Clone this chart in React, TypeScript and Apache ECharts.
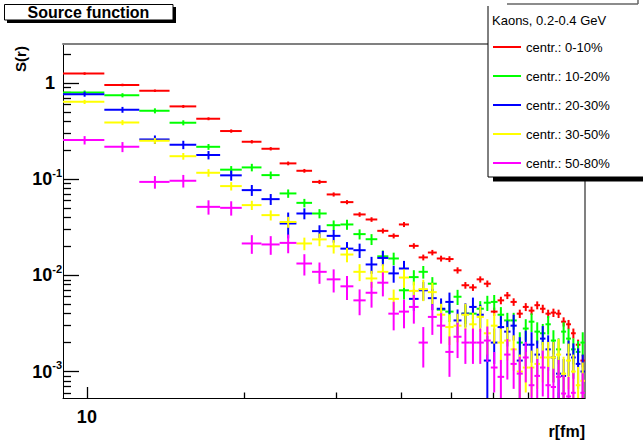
import React, { useEffect, useRef } from "react";
import * as echarts from "echarts";

const F = "Liberation Sans";
const XMIN = 9;
const XMAX = 90;
const YMIN = 5.3e-4;
const YMAX = 2.56;

const R_CENTERS = [9.9, 11.7, 13.5, 15.3, 17.1, 18.9, 20.7, 22.5, 24.3, 26.1, 27.9, 29.7, 31.5, 33.3, 35.1, 36.9, 38.7, 40.5, 42.3, 44.1, 45.9, 47.7, 49.5, 51.3, 53.1, 54.9, 56.7, 58.5, 60.3, 62.1, 63.9, 65.7, 67.5, 69.3, 71.1, 72.9, 74.7, 76.5, 78.3, 80.1, 81.9, 83.7, 85.5, 87.3, 89.1];
const BIN_HALF = 0.9;

const NAMES = ["centr.: 0-10%", "centr.: 10-20%", "centr.: 20-30%", "centr.: 30-50%", "centr.: 50-80%"];
const COLORS = ["#ff0000", "#00ff00", "#0000ff", "#ffff00", "#ff00ff"];

const RED = [1.26, 0.96, 0.835, 0.574, 0.427, 0.318, 0.246, 0.208, 0.1465, 0.1227, 0.094, 0.0696, 0.0579, 0.0431, 0.0382, 0.0291, 0.0258, 0.0339, 0.0203, 0.0154, 0.0173, 0.015, 0.0148, 0.0113, 0.0079, 0.0075, 0.0091, 0.0082, 0.0042, 0.0055, 0.0062, 0.0053, 0.004, 0.0047, 0.0043, 0.0049, 0.0045, 0.004, 0.0041, 0.004, 0.0033, 0.0031, 0.0025, 0.0019, 0.0013];
const GREEN = [0.8, 0.75, 0.517, 0.388, 0.218, 0.126, 0.133, 0.1106, 0.0713, 0.0569, 0.0441, 0.0333, 0.0339, 0.0269, 0.0238, 0.0158, 0.015, 0.007, 0.0096, 0.0109, 0.0082, 0.0044, 0.0042, 0.006, 0.004, 0.004, 0.0045, 0.0052, 0.0053, 0.0039, 0.0034, 0.0034, 0.002, 0.0028, 0.0033, 0.0026, 0.0025, 0.0031, 0.0021, 0.0017, 0.0026, 0.0022, 0.0017, 0.0016, 0.002];
const BLUE = [0.77, 0.53, 0.26, 0.229, 0.179, 0.11, 0.0772, 0.0622, 0.0347, 0.0441, 0.0289, 0.0258, 0.019, 0.0183, 0.013, 0.0152, 0.0105, 0.0118, 0.0057, 0.007, 0.0058, 0.0045, 0.0053, 0.0034, 0.004, 0.0047, 0.0039, 0.0013, 0.002, 0.0029, 0.0026, 0.003, 0.0013, 0.0019, 0.0019, 0.0015, 0.0022, 0.0017, 0.0014, 0.00095, 0.0009, 0.0015, 0.0014, 0.0012, 0.001];
const YELLOW = [0.64, 0.39, 0.252, 0.174, 0.117, 0.085, 0.0539, 0.0424, 0.036, 0.0215, 0.0237, 0.0201, 0.0165, 0.0109, 0.0093, 0.0109, 0.0057, 0.0095, 0.0069, 0.0072, 0.0067, 0.0039, 0.0029, 0.003, 0.0039, 0.0031, 0.0037, 0.0025, 0.003, 0.002, 0.0021, 0.0017, 0.001, 0.0011, 0.0011, 0.0012, 0.0014, 0.0014, 0.0014, 0.0015, 0.00095, 0.0013, 0.001, 0.00072, 0.0008];
const MAGENTA = [0.256, 0.218, 0.094, 0.0966, 0.0517, 0.0505, 0.0215, 0.021, 0.0218, 0.0133, 0.0109, 0.0091, 0.0077, 0.0055, 0.0066, 0.0084, 0.004, 0.0042, 0.0047, 0.002, 0.0037, 0.003, 0.0016, 0.0023, 0.002, 0.002, 0.002, 0.0021, 0.0011, 0.00088, 0.0015, 0.0012, 0.00095, 0.0014, 0.00072, 0.0009, 0.0011, 0.00072, 0.00069, 0.00088, 0.00059, 0.00055, 0.0006, 0.0005, 0.0006];

// relative errors
const RED_ERR = [0.03, 0.03, 0.03, 0.035, 0.035, 0.04, 0.04, 0.04, 0.045, 0.045, 0.05, 0.05, 0.05, 0.055, 0.055, 0.06, 0.06, 0.06, 0.065, 0.07, 0.065, 0.07, 0.07, 0.075, 0.08, 0.08, 0.075, 0.08, 0.1, 0.09, 0.085, 0.09, 0.1, 0.095, 0.1, 0.095, 0.1, 0.1, 0.1, 0.1, 0.11, 0.11, 0.12, 0.13, 0.15];
const GREEN_ERR = [0.05, 0.05, 0.06, 0.06, 0.07, 0.09, 0.09, 0.09, 0.1, 0.1, 0.11, 0.12, 0.12, 0.12, 0.13, 0.15, 0.15, 0.2, 0.18, 0.15, 0.17, 0.22, 0.22, 0.18, 0.22, 0.22, 0.2, 0.18, 0.18, 0.2, 0.2, 0.2, 0.28, 0.25, 0.22, 0.25, 0.25, 0.22, 0.28, 0.3, 0.25, 0.27, 0.3, 0.3, 0.28];
const BLUE_ERR = [0.06, 0.07, 0.1, 0.1, 0.1, 0.12, 0.13, 0.13, 0.3, 0.13, 0.15, 0.15, 0.17, 0.17, 0.2, 0.18, 0.2, 0.2, 0.25, 0.22, 0.25, 0.28, 0.25, 0.3, 0.28, 0.25, 0.27, 0.8, 0.4, 0.3, 0.3, 0.3, 0.75, 0.4, 0.35, 0.4, 0.35, 0.4, 0.45, 0.5, 0.5, 0.4, 0.4, 0.45, 0.5];
const YELLOW_ERR = [0.05, 0.06, 0.07, 0.08, 0.09, 0.1, 0.11, 0.12, 0.13, 0.15, 0.15, 0.16, 0.17, 0.2, 0.2, 0.2, 0.25, 0.22, 0.25, 0.25, 0.25, 0.3, 0.35, 0.33, 0.3, 0.32, 0.3, 0.4, 0.35, 0.4, 0.38, 0.4, 0.5, 0.45, 0.5, 0.45, 0.45, 0.45, 0.45, 0.45, 0.5, 0.5, 0.5, 0.55, 0.55];
const MAGENTA_ERR = [0.1, 0.12, 0.15, 0.15, 0.17, 0.17, 0.22, 0.22, 0.22, 0.25, 0.25, 0.27, 0.28, 0.3, 0.3, 0.28, 0.33, 0.33, 0.33, 0.45, 0.35, 0.35, 0.45, 0.4, 0.4, 0.4, 0.4, 0.4, 0.45, 0.5, 0.45, 0.45, 0.5, 0.45, 0.55, 0.5, 0.5, 0.55, 0.55, 0.5, 0.55, 0.6, 0.6, 0.6, 0.6];

const SERIES_VALUES = [RED, GREEN, BLUE, YELLOW, MAGENTA];
const SERIES_ERRS = [RED_ERR, GREEN_ERR, BLUE_ERR, YELLOW_ERR, MAGENTA_ERR];

const Y_MAJOR_TICKS = [0.001, 0.01, 0.1, 1];
const Y_MINOR_TICKS = [
  6e-4, 7e-4, 8e-4, 9e-4,
  2e-3, 3e-3, 4e-3, 5e-3, 6e-3, 7e-3, 8e-3, 9e-3,
  0.02, 0.03, 0.04, 0.05, 0.06, 0.07, 0.08, 0.09,
  0.2, 0.3, 0.4, 0.5, 0.6, 0.7, 0.8, 0.9,
  2,
];
const X_MAJOR_TICKS = [10];
const X_MINOR_TICKS = [20, 30, 40, 50, 60, 70, 80];

function buildData(vals: number[], errs: number[]) {
  const out: number[][] = [];
  vals.forEach((v, i) => {
    if (v < YMIN || v > YMAX) return;
    const c = R_CENTERS[i];
    out.push([
      c,
      Math.max(c - BIN_HALF, XMIN),
      Math.min(c + BIN_HALF, XMAX),
      v,
      Math.max(v * (1 - errs[i]), YMIN),
      Math.min(v * (1 + errs[i]), YMAX),
    ]);
  });
  return out;
}

const TICK_COLOR = "#000";
const TICK_WIDTH = 1.3;

export default function App() {
  const ref = useRef<HTMLDivElement>(null);
  useEffect(() => {
    if (!ref.current) return;
    const chart = echarts.init(ref.current, undefined, { renderer: "svg" });

    const dataSeries = SERIES_VALUES.map((vals, si) => ({
      type: "custom",
      name: NAMES[si],
      xAxisIndex: 0,
      yAxisIndex: 0,
      clip: false,
      itemStyle: { color: COLORS[si] },
      encode: { x: 0, y: 3 },
      data: buildData(vals, SERIES_ERRS[si]),
      renderItem: (params: any, api: any) => {
        const x = api.value(0);
        const xl = api.value(1);
        const xh = api.value(2);
        const y = api.value(3);
        const yl = api.value(4);
        const yh = api.value(5);
        const pL = api.coord([xl, y]);
        const pH = api.coord([xh, y]);
        const pC = api.coord([x, y]);
        const pYL = api.coord([x, yl]);
        const pYH = api.coord([x, yh]);
        return {
          type: "group",
          children: [
            { type: "line", shape: { x1: pL[0], y1: pC[1], x2: pH[0], y2: pC[1] }, style: { stroke: COLORS[si], lineWidth: 2 } },
            { type: "line", shape: { x1: pC[0], y1: pYL[1], x2: pC[0], y2: pYH[1] }, style: { stroke: COLORS[si], lineWidth: 2 } },
          ],
        };
      },
    }));

    const isPow10 = (v: number) => Math.abs(Math.log10(v) - Math.round(Math.log10(v))) < 1e-6;

    const baseX = { type: "log", logBase: 10, min: XMIN, max: XMAX, splitLine: { show: false }, minorTick: { show: false } };
    const baseY = { type: "log", logBase: 10, min: YMIN, max: YMAX, splitLine: { show: false }, minorTick: { show: false } };
    const tickLine = { color: TICK_COLOR, width: TICK_WIDTH };

    const option: any = {
      animation: false,
      backgroundColor: "#ffffff",
      grid: { left: 63, top: 44, width: 522, height: 354, show: false, containLabel: false, outerBoundsMode: "none" },
      xAxis: [
        {
          ...baseX,
          position: "bottom",
          axisLine: { show: true, onZero: false, lineStyle: { color: "#000", width: 1 } },
          axisTick: { show: true, inside: true, length: 11, customValues: X_MAJOR_TICKS, lineStyle: tickLine },
          axisLabel: {
            show: true,
            margin: 10,
            fontSize: 18,
            fontWeight: "bold",
            fontFamily: F,
            color: "#000",
            lineHeight: 18,
            showMinLabel: false,
            showMaxLabel: false,
            formatter: (v: number) => (Math.abs(v - 10) < 1e-6 ? "10" : ""),
          },
        },
        {
          ...baseX,
          position: "top",
          axisLine: { show: true, onZero: false, lineStyle: { color: "#808080", width: 2 } },
          axisTick: { show: false },
          axisLabel: { show: false },
        },
        {
          ...baseX,
          position: "bottom",
          axisLine: { show: false, onZero: false },
          axisTick: { show: true, inside: true, length: 5.5, customValues: X_MINOR_TICKS, lineStyle: tickLine },
          axisLabel: { show: false },
        },
      ],
      yAxis: [
        {
          ...baseY,
          position: "left",
          axisLine: { show: true, onZero: false, lineStyle: { color: "#000", width: 1 } },
          axisTick: { show: true, inside: true, length: 16, customValues: Y_MAJOR_TICKS, lineStyle: tickLine },
          axisLabel: {
            show: true,
            margin: 1,
            showMinLabel: false,
            showMaxLabel: false,
            formatter: (v: number) => {
              if (!isPow10(v)) return "";
              const e = Math.round(Math.log10(v));
              if (e === 0) return "{m|1}{p| }";
              return "{m|10}{s|" + e + "}";
            },
            rich: {
              m: { fontSize: 18, fontWeight: "bold", fontFamily: F, color: "#000", lineHeight: 24 },
              s: { fontSize: 11, fontWeight: "bold", fontFamily: F, color: "#000", lineHeight: 10, verticalAlign: "top" },
              p: { width: 7, fontSize: 11, lineHeight: 10 },
            },
          },
        },
        {
          ...baseY,
          position: "right",
          axisLine: { show: true, onZero: false, lineStyle: { color: "#808080", width: 2 } },
          axisTick: { show: false },
          axisLabel: { show: false },
        },
        {
          ...baseY,
          position: "left",
          axisLine: { show: false, onZero: false },
          axisTick: { show: true, inside: true, length: 8, customValues: Y_MINOR_TICKS, lineStyle: tickLine },
          axisLabel: { show: false },
        },
      ],
      legend: {
        orient: "vertical",
        left: 493,
        top: 40,
        padding: 0,
        itemWidth: 28,
        itemHeight: 14,
        itemGap: 15,
        z: 30,
        icon: "path://M0,6L28,6L28,8L0,8Z",
        itemStyle: { borderWidth: 0 },
        textStyle: { fontSize: 13, fontFamily: F, color: "#000", lineHeight: 14 },
        selectedMode: false,
        data: NAMES.map((n, i) => ({ name: n, itemStyle: { color: COLORS[i] } })),
      },
      graphic: [
        // title box
        { type: "rect", z: 20, shape: { x: 7, y: 20, width: 169, height: 3 }, style: { fill: "#000" } },
        { type: "rect", z: 20, shape: { x: 173, y: 7, width: 3, height: 16 }, style: { fill: "#000" } },
        { type: "rect", z: 21, shape: { x: 4.5, y: 4.5, width: 168.5, height: 15.5 }, style: { fill: "#fff", stroke: "#000", lineWidth: 1 } },
        {
          type: "text",
          z: 22,
          x: 88.5,
          y: 12.5,
          style: { text: "Source function", fontSize: 16, fontWeight: "bold", fontFamily: F, fill: "#000", align: "center", verticalAlign: "middle" },
        },
        // legend box
        { type: "line", z: 19, shape: { x1: 507, y1: 4, x2: 638, y2: 4 }, style: { stroke: "#666", lineWidth: 1.5 } },
        { type: "line", z: 19, shape: { x1: 638, y1: 0, x2: 638, y2: 4 }, style: { stroke: "#666", lineWidth: 1.5 } },
        { type: "rect", z: 20, shape: { x: 493, y: 177, width: 160, height: 4.5 }, style: { fill: "#000" } },
        { type: "rect", z: 21, shape: { x: 488, y: 6, width: 170, height: 171 }, style: { fill: "#fff" } },
        { type: "line", z: 22, shape: { x1: 488, y1: 6, x2: 488, y2: 177 }, style: { stroke: "#000", lineWidth: 1 } },
        { type: "line", z: 22, shape: { x1: 488, y1: 177, x2: 650, y2: 177 }, style: { stroke: "#000", lineWidth: 1 } },
        {
          type: "text",
          z: 22,
          x: 492,
          y: 20,
          style: { text: "Kaons, 0.2-0.4 GeV", fontSize: 13, fontFamily: F, fill: "#000", align: "left", verticalAlign: "middle" },
        },
        // axis titles
        {
          type: "text",
          z: 22,
          x: 20,
          y: 59,
          rotation: Math.PI / 2,
          style: { text: "S(r)", fontSize: 15, fontWeight: "bold", fontFamily: F, fill: "#000", align: "center", verticalAlign: "middle" },
        },
        {
          type: "text",
          z: 22,
          x: 585,
          y: 431,
          style: { text: "r[fm]", fontSize: 16, fontWeight: "bold", fontFamily: F, fill: "#000", align: "right", verticalAlign: "middle" },
        },
      ],
      series: dataSeries,
    };
    chart.setOption(option);
    return () => chart.dispose();
  }, []);
  return <div ref={ref} style={{ position: "absolute", left: 0, top: 0, width: 643, height: 446 }} />;
}
